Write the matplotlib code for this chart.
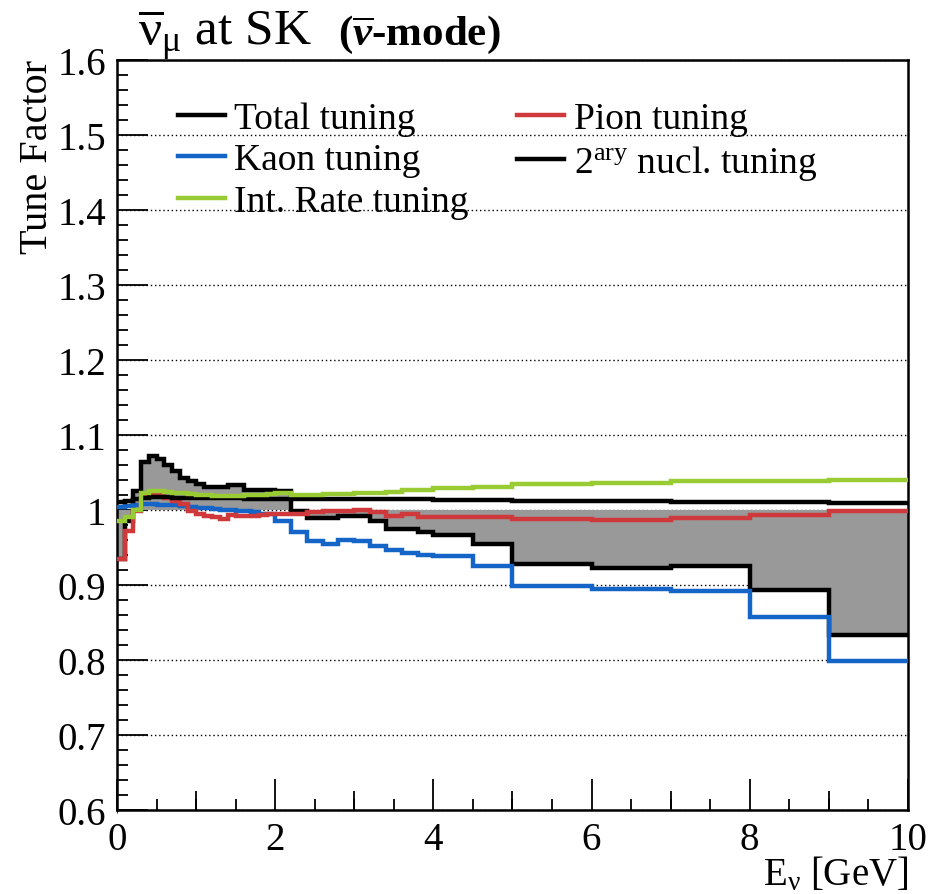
import matplotlib
matplotlib.use("Agg")
import matplotlib.pyplot as plt
from matplotlib.ticker import MultipleLocator, FuncFormatter
from matplotlib.lines import Line2D

plt.rcParams['font.family'] = ['Liberation Serif', 'DejaVu Serif']
plt.rcParams['mathtext.fontset'] = 'custom'
plt.rcParams['mathtext.rm'] = 'Liberation Serif'
plt.rcParams['mathtext.it'] = 'Liberation Serif:italic'
plt.rcParams['mathtext.bf'] = 'Liberation Serif:bold:italic'
plt.rcParams['mathtext.default'] = 'regular'

# Neutrino energy bin edges [GeV]
edges = [0.0, 0.1, 0.2, 0.3, 0.4, 0.5, 0.6, 0.7, 0.8, 0.9, 1.0,
         1.1, 1.2, 1.3, 1.4, 1.5, 1.6, 1.7, 1.8, 1.9, 2.0,
         2.2, 2.4, 2.6, 2.8, 3.0, 3.2, 3.4, 3.6, 3.8, 4.0,
         4.5, 5.0, 6.0, 7.0, 8.0, 9.0, 10.0]

# Tuning factors per bin
total = [0.935, 0.985, 1.025, 1.064, 1.072, 1.068, 1.060, 1.052, 1.042, 1.038,
         1.034, 1.030, 1.030, 1.030, 1.033, 1.033, 1.027, 1.027, 1.027, 1.027,
         1.025, 0.999, 0.989, 0.989, 0.992, 0.992, 0.985, 0.975, 0.974, 0.970,
         0.966, 0.954,
         0.928, 0.922, 0.925, 0.893, 0.833]

pion = [0.935, 0.972, 0.999, 1.019, 1.022, 1.022, 1.016, 1.012, 1.008, 0.999,
        0.995, 0.992, 0.990, 0.988, 0.993, 0.992, 0.992, 0.992, 0.993, 0.994,
        0.994, 0.995, 0.997, 0.998, 0.998, 1.000, 0.997, 0.992, 0.994, 0.991,
        0.991, 0.990,
        0.988, 0.986, 0.989, 0.993, 0.998]

kaon = [1.004, 1.005, 1.006, 1.008, 1.008, 1.007, 1.007, 1.006, 1.005, 1.004,
        1.003, 1.002, 1.001, 1.000, 1.000, 0.999, 0.998, 0.997, 0.995, 0.994,
        0.985, 0.970, 0.959, 0.954, 0.960, 0.958, 0.952, 0.947, 0.943, 0.940,
        0.938, 0.925,
        0.899, 0.894, 0.892, 0.857, 0.798]

secondary_nucl = [1.010, 1.012, 1.014, 1.016, 1.017, 1.017, 1.017, 1.016, 1.016, 1.016,
                  1.016, 1.016, 1.016, 1.016, 1.016, 1.016, 1.015, 1.015, 1.015, 1.015,
                  1.015, 1.015, 1.015, 1.015, 1.015, 1.015, 1.014, 1.014, 1.014, 1.014,
                  1.013, 1.013,
                  1.012, 1.012, 1.011, 1.011, 1.009]

int_rate = [0.985, 0.990, 1.000, 1.022, 1.025, 1.025, 1.024, 1.023, 1.022, 1.021,
            1.020, 1.020, 1.019, 1.019, 1.019, 1.019, 1.020, 1.020, 1.020, 1.021,
            1.022, 1.020, 1.020, 1.021, 1.021, 1.022, 1.023, 1.024, 1.026, 1.027,
            1.029, 1.031,
            1.034, 1.036, 1.038, 1.039, 1.040]

labels = ['Total tuning', 'Pion tuning', 'Kaon tuning',
          r'2$^{ary}$ nucl. tuning', 'Int. Rate tuning']
c_total = 'black'
c_pion = '#d0393b'
c_kaon = '#1565c8'
c_nucl = 'black'
c_rate = '#99cc33'
c_fill = '#999999'

fig = plt.figure(figsize=(9.36, 8.95), dpi=100)
ax = fig.add_axes([0.125, 0.0942, 0.845, 0.8376])
ax.set_xlim(0, 10)
ax.set_ylim(0.6, 1.6)
ax.set_axisbelow(True)

lw = 3.2
ax.stairs(total, edges, baseline=1.0, fill=True, color=c_fill, lw=0, zorder=1)
ax.stairs(total, edges, baseline=None, color=c_total, lw=lw, zorder=2)
ax.stairs(kaon, edges, baseline=None, color=c_kaon, lw=lw, zorder=3)
ax.stairs(pion, edges, baseline=None, color=c_pion, lw=lw, zorder=4)
ax.stairs(secondary_nucl, edges, baseline=None, color=c_nucl, lw=lw, zorder=5)
ax.stairs(int_rate, edges, baseline=None, color=c_rate, lw=lw, zorder=6)

# Axes styling
ax.yaxis.grid(True, which='major', linestyle=(0, (1, 2)), color='black', lw=1.0)
ax.xaxis.set_major_locator(MultipleLocator(2))
ax.xaxis.set_minor_locator(MultipleLocator(0.5))
ax.yaxis.set_major_locator(MultipleLocator(0.1))
ax.yaxis.set_minor_locator(MultipleLocator(0.02))
ax.yaxis.set_major_formatter(FuncFormatter(lambda v, p: '%g' % round(v, 2)))
ax.xaxis.set_major_formatter(FuncFormatter(lambda v, p: '%g' % v))
ax.tick_params(which='both', direction='in', top=False, right=False,
               width=1.3, labelsize=28)
ax.tick_params(which='major', length=22, pad=8)
ax.tick_params(which='minor', length=8)
sec = ax.secondary_xaxis('bottom')
sec.set_xticks([1, 3, 5, 7, 9])
sec.tick_params(direction='in', length=14, width=1.3, labelbottom=False)
sec.xaxis.set_minor_locator(MultipleLocator(100))
for s in sec.spines.values():
    s.set_visible(False)
for s in ax.spines.values():
    s.set_linewidth(1.8)

# Legend: column-wise order gives rows (Total, Pion), (Kaon, 2ary), (Int. Rate)
handles = [Line2D([], [], color=c_total, lw=lw),
           Line2D([], [], color=c_kaon, lw=lw),
           Line2D([], [], color=c_rate, lw=lw),
           Line2D([], [], color=c_pion, lw=lw),
           Line2D([], [], color=c_nucl, lw=lw)]
leg_labels = [labels[0], labels[2], labels[4], labels[1], labels[3]]
ax.legend(handles, leg_labels, ncol=2, loc='upper left',
          bbox_to_anchor=(0.077, 0.945), frameon=False, fontsize=27,
          handlelength=1.25, handletextpad=0.25, columnspacing=1.3,
          labelspacing=0.19, borderpad=0, borderaxespad=0)

# Titles and axis labels
fig.text(138 / 936, 1 - 45 / 895, r'$\overline{\nu}_{\mu}$ at SK', fontsize=37,
         ha='left', va='baseline')
fig.text(338 / 936, 1 - 45 / 895, r'($\mathbf{\overline{\nu}}$-mode)', fontsize=31,
         fontweight='bold', ha='left', va='baseline')
fig.text(38 / 936, 1 - 60 / 895, 'Tune Factor', fontsize=29, rotation=90,
         ha='center', va='top')
fig.text(908 / 936, 1 - 885 / 895, r'E$_{\nu}$ [GeV]', fontsize=28,
         ha='right', va='baseline')

fig.savefig('out.png', dpi=100)
